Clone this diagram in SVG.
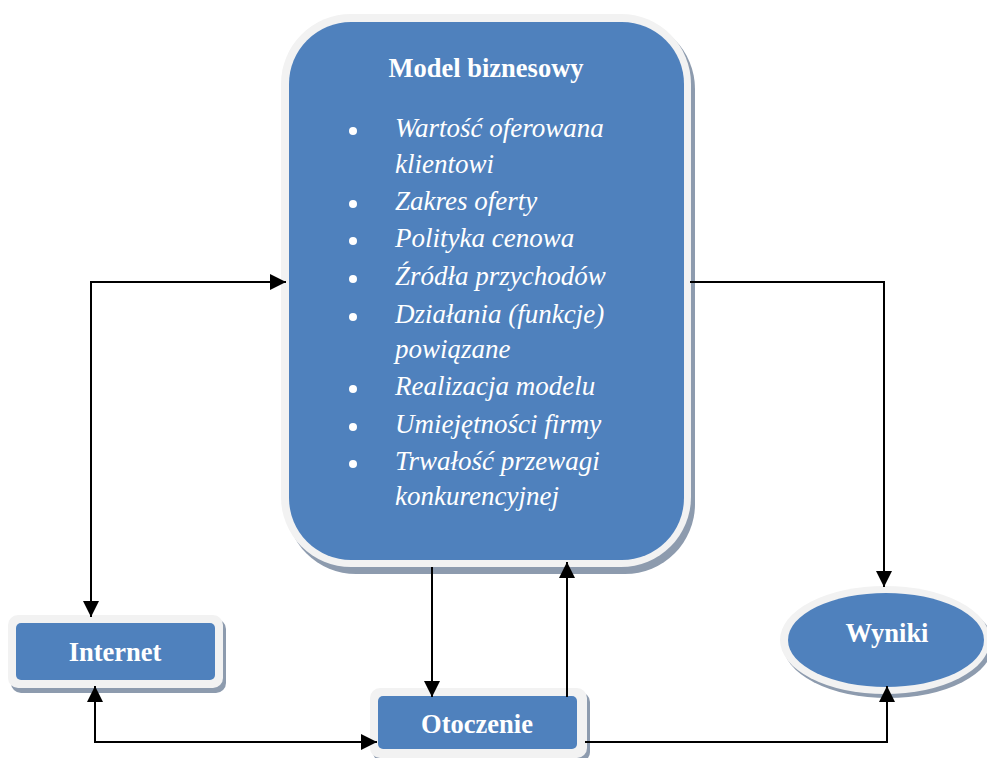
<svg xmlns="http://www.w3.org/2000/svg" width="987" height="758" viewBox="0 0 987 758">
<defs>
<style>
.sh{fill:#8d9bae}
.bd{fill:#f2f2f2}
.bl{fill:#4f81bd}
.t{font-family:'Liberation Serif','Times New Roman','DejaVu Serif',serif;fill:#ffffff}
.b{font-weight:bold;font-size:26.5px}
.i{font-style:italic;font-size:27px}
.c{stroke:#000;stroke-width:2;fill:none}
</style>
<marker id="ah" viewBox="0 0 10 10" refX="10" refY="5" markerWidth="16" markerHeight="16" markerUnits="userSpaceOnUse" orient="auto">
<path d="M0,0 L10,5 L0,10 z" fill="#000"/>
</marker>
</defs>
<rect width="987" height="758" fill="#fff"/>
<g id="model">
<rect class="sh" x="286" y="19" width="409" height="555" rx="70"/>
<rect class="bd" x="281" y="14" width="410" height="553" rx="70"/>
<rect class="bl" x="289" y="22" width="395" height="538" rx="62"/>
<text class="t b" x="486" y="77" text-anchor="middle">Model biznesowy</text>
<g fill="#fff">
<circle cx="353" cy="131" r="4"/>
<circle cx="353" cy="204" r="4"/>
<circle cx="353" cy="241" r="4"/>
<circle cx="353" cy="279" r="4"/>
<circle cx="353" cy="317" r="4"/>
<circle cx="353" cy="389" r="4"/>
<circle cx="353" cy="427" r="4"/>
<circle cx="353" cy="464" r="4"/>
</g>
<text class="t i" x="395" y="137">Wartość oferowana</text>
<text class="t i" x="395" y="173">klientowi</text>
<text class="t i" x="395" y="210">Zakres oferty</text>
<text class="t i" x="395" y="247">Polityka cenowa</text>
<text class="t i" x="395" y="285">Źródła przychodów</text>
<text class="t i" x="395" y="323">Działania (funkcje)</text>
<text class="t i" x="395" y="358">powiązane</text>
<text class="t i" x="395" y="395">Realizacja modelu</text>
<text class="t i" x="395" y="433">Umiejętności firmy</text>
<text class="t i" x="395" y="470">Trwałość przewagi</text>
<text class="t i" x="395" y="505">konkurencyjnej</text>
</g>
<g id="internet">
<rect class="sh" x="11" y="619" width="215" height="74" rx="10"/>
<rect class="bd" x="8" y="615" width="215" height="73" rx="10"/>
<rect class="bl" x="16" y="623" width="199" height="57" rx="5"/>
<text class="t b" x="115" y="661" text-anchor="middle">Internet</text>
</g>
<g id="otoczenie">
<rect class="sh" x="373" y="692" width="217" height="70" rx="10"/>
<rect class="bd" x="370" y="688" width="217" height="70" rx="10"/>
<rect class="bl" x="378" y="696" width="199" height="53" rx="5"/>
<text class="t b" x="477" y="733" text-anchor="middle">Otoczenie</text>
</g>
<g id="wyniki">
<ellipse class="sh" cx="888" cy="644" rx="105" ry="54"/>
<ellipse class="bd" cx="885" cy="640" rx="105" ry="54"/>
<ellipse class="bl" cx="886" cy="640" rx="98" ry="47"/>
<text class="t b" x="887" y="642" text-anchor="middle">Wyniki</text>
</g>
<g id="connectors">
<polyline class="c" points="91,282 286,282" marker-end="url(#ah)"/>
<polyline class="c" points="91,281 91,617" marker-end="url(#ah)"/>
<polyline class="c" points="690,282 884,282 884,587" marker-end="url(#ah)"/>
<polyline class="c" points="432,567 432,697" marker-end="url(#ah)"/>
<polyline class="c" points="567,697 567,562" marker-end="url(#ah)"/>
<polyline class="c" points="95,743 95,686" marker-end="url(#ah)"/>
<polyline class="c" points="94,742 377,742" marker-end="url(#ah)"/>
<polyline class="c" points="585,742 887,742 887,686" marker-end="url(#ah)"/>
</g>
</svg>
